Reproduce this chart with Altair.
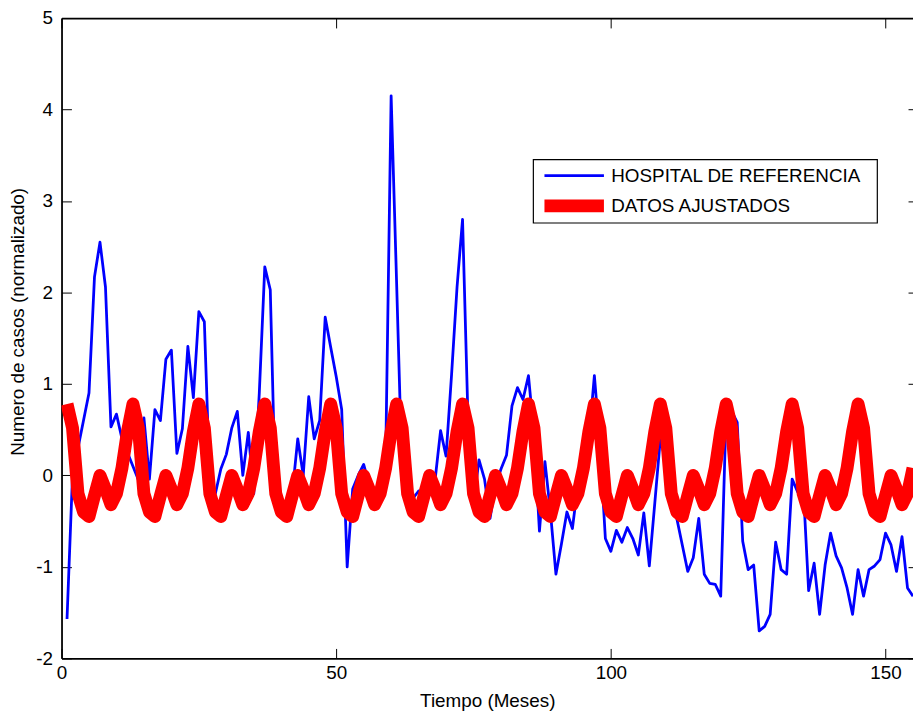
import altair as alt
import pandas as pd

# ---------------- data ----------------
meses = list(range(1, 156))

hospital = [
    -1.57, 0.00, 0.30, 0.60, 0.90, 2.17, 2.55, 2.06, 0.53, 0.67,
    0.40, 0.25, 0.10, -0.05, 0.63, -0.04, 0.72, 0.60, 1.27, 1.37,
    0.24, 0.51, 1.41, 0.85, 1.79, 1.68, -0.10, -0.20, 0.07, 0.23,
    0.52, 0.70, 0.00, 0.47, -0.20, 0.90, 2.28, 2.03, -0.35, -0.30,
    -0.30, -0.20, 0.40, 0.00, 0.86, 0.40, 0.60, 1.73, 1.40, 1.08,
    0.72, -1.00, -0.15, 0.00, 0.12, -0.10, -0.25, -0.15, 0.15, 4.15,
    2.10, 0.00, -0.15, -0.25, -0.17, -0.20, -0.15, -0.05, 0.49, 0.21,
    1.10, 2.06, 2.80, 0.60, -0.30, 0.17, -0.04, -0.47, -0.11, 0.07,
    0.22, 0.76, 0.96, 0.83, 1.09, 0.45, -0.61, 0.15, -0.40, -1.08,
    -0.75, -0.40, -0.58, -0.10, 0.05, 0.40, 1.09, 0.35, -0.69, -0.83,
    -0.60, -0.73, -0.57, -0.69, -0.87, -0.41, -0.99, -0.30, 0.40, 0.15,
    -0.20, -0.47, -0.76, -1.05, -0.90, -0.47, -1.08, -1.18, -1.19, -1.32,
    0.72, 0.70, 0.58, -0.72, -1.03, -0.98, -1.70, -1.65, -1.52, -0.73,
    -1.03, -1.08, -0.04, -0.18, -0.10, -1.26, -0.96, -1.52, -0.98, -0.63,
    -0.88, -1.01, -1.23, -1.52, -1.03, -1.32, -1.03, -0.99, -0.92, -0.63,
    -0.76, -1.05, -0.67, -1.23, -1.32,
]

ajustados = [
    0.78, 0.52, -0.20, -0.40, -0.45, -0.22, 0.00, -0.15, -0.32, -0.20, 0.08, 0.48,
    0.78, 0.52, -0.20, -0.40, -0.45, -0.22, 0.00, -0.15, -0.32, -0.20, 0.08, 0.48,
    0.78, 0.52, -0.20, -0.40, -0.45, -0.22, 0.00, -0.15, -0.32, -0.20, 0.08, 0.48,
    0.78, 0.52, -0.20, -0.40, -0.45, -0.22, 0.00, -0.15, -0.32, -0.20, 0.08, 0.48,
    0.78, 0.52, -0.20, -0.40, -0.45, -0.22, 0.00, -0.15, -0.32, -0.20, 0.08, 0.48,
    0.78, 0.52, -0.20, -0.40, -0.45, -0.22, 0.00, -0.15, -0.32, -0.20, 0.08, 0.48,
    0.78, 0.52, -0.20, -0.40, -0.45, -0.22, 0.00, -0.15, -0.32, -0.20, 0.08, 0.48,
    0.78, 0.52, -0.20, -0.40, -0.45, -0.22, 0.00, -0.15, -0.32, -0.20, 0.08, 0.48,
    0.78, 0.52, -0.20, -0.40, -0.45, -0.22, 0.00, -0.15, -0.32, -0.20, 0.08, 0.48,
    0.78, 0.52, -0.20, -0.40, -0.45, -0.22, 0.00, -0.15, -0.32, -0.20, 0.08, 0.48,
    0.78, 0.52, -0.20, -0.40, -0.45, -0.22, 0.00, -0.15, -0.32, -0.20, 0.08, 0.48,
    0.78, 0.52, -0.20, -0.40, -0.45, -0.22, 0.00, -0.15, -0.32, -0.20, 0.08, 0.48,
    0.78, 0.52, -0.20, -0.40, -0.45, -0.22, 0.00, -0.15, -0.32, -0.20, 0.08,
]

series = ["HOSPITAL DE REFERENCIA", "DATOS AJUSTADOS"]
colores = ["#0000ff", "#ff0000"]
anchos = [2.8, 13]
x_ticks = [0, 50, 100, 150]
y_ticks = [-2, -1, 0, 1, 2, 3, 4, 5]

df_h = pd.DataFrame({"t": meses, "v": hospital, "serie": series[0]})
df_a = pd.DataFrame({"t": meses, "v": ajustados, "serie": series[1]})

FONT = "Liberation Sans"
FS = 19

x_scale = alt.Scale(domain=[0, 155], nice=False, zero=False)
y_scale = alt.Scale(domain=[-2, 5], nice=False, zero=False)

# an empty (non-breaking space) title on the right only widens the legend box
legend = alt.Legend(title="\u00a0", titleOrient="right", titlePadding=9)
color_enc = alt.Color("serie:N", scale=alt.Scale(domain=series, range=colores), legend=legend)
width_enc = alt.StrokeWidth("serie:N", scale=alt.Scale(domain=series, range=anchos), legend=legend)

common = dict(
    grid=False,
    labelFont=FONT,
    labelFontSize=FS,
    labelColor="black",
    titleFont=FONT,
    titleFontSize=FS,
    titleColor="black",
    titleFontWeight="normal",
    domainColor="black",
    domainWidth=1.8,
    tickColor="black",
    tickWidth=1,
)

# Layer 1: blue series + main axes (labels, titles, left/bottom border)
blue = alt.Chart(df_h).mark_line(clip=True, strokeJoin="round").encode(
    x=alt.X(
        "t:Q",
        scale=x_scale,
        axis=alt.Axis(
            orient="bottom", values=x_ticks, ticks=False, tickSize=0, labelPadding=5,
            labelFlush=False, title="Tiempo (Meses)", titleY=43, titleBaseline="middle",
            **common,
        ),
    ),
    y=alt.Y(
        "v:Q",
        scale=y_scale,
        axis=alt.Axis(
            orient="left", values=y_ticks, ticks=False, tickSize=0, labelPadding=9,
            labelFlush=False, labelExpr="'' + datum.value",
            title="Numero de casos (normalizado)", titleX=-44, titleY=306,
            titleBaseline="middle", titleAngle=270, titleAlign="center",
            **common,
        ),
    ),
    color=color_enc,
    strokeWidth=width_enc,
)

# Layer 2: red series + top border
red = alt.Chart(df_a).mark_line(clip=True, strokeJoin="round", strokeCap="butt").encode(
    x=alt.X(
        "t:Q",
        scale=x_scale,
        axis=alt.Axis(orient="top", values=x_ticks, ticks=False, tickSize=0, labels=False,
                      title=None, **common),
    ),
    y=alt.Y(
        "v:Q",
        scale=y_scale,
        axis=alt.Axis(orient="right", values=y_ticks, ticks=False, tickSize=0, labels=False,
                      domain=False, title=None, **common),
    ),
    color=color_enc,
    strokeWidth=width_enc,
)

# Layers 3-4: inward tick marks (MATLAB style box ticks)
ticks_a = alt.Chart(df_h).mark_line(opacity=0).encode(
    x=alt.X("t:Q", scale=x_scale,
            axis=alt.Axis(orient="bottom", values=x_ticks, offset=-10, tickSize=10, labels=False,
                          domain=False, title=None, **common)),
    y=alt.Y("v:Q", scale=y_scale,
            axis=alt.Axis(orient="left", values=y_ticks, offset=-10, tickSize=10, labels=False,
                          domain=False, title=None, **common)),
)
ticks_b = alt.Chart(df_h).mark_line(opacity=0).encode(
    x=alt.X("t:Q", scale=x_scale,
            axis=alt.Axis(orient="top", values=x_ticks, offset=-10, tickSize=10, labels=False,
                          domain=False, title=None, **common)),
    y=alt.Y("v:Q", scale=y_scale,
            axis=alt.Axis(orient="right", values=y_ticks, offset=-5, tickSize=5, labels=False,
                          domain=False, title=None, **common)),
)

chart = (
    alt.layer(blue, red, ticks_a, ticks_b)
    .resolve_axis(x="independent", y="independent")
    .properties(
        width=859,
        height=646,
        padding={"left": 54, "top": 7, "right": 0, "bottom": 51},
        autosize=alt.AutoSizeParams(type="none"),
        background="white",
    )
    .configure_view(stroke=None)
    .configure_legend(
        orient="none",
        legendX=475.7,
        legendY=142.5,
        padding=7,
        strokeColor="black",
        fillColor="white",
        cornerRadius=0,
        strokeWidth=1.2,
        symbolType="M0,0L8,0",
        symbolSize=225,
        clipHeight=19,
        labelFont=FONT,
        labelFontSize=FS,
        labelColor="black",
        labelLimit=0,
        labelOffset=53.4,
        rowPadding=10.5,
        symbolOffset=-9.5,
        titleFont=FONT,
        titleFontSize=FS,
    )
)

chart.save("out.html", embed_options={"renderer": "svg", "actions": False})
